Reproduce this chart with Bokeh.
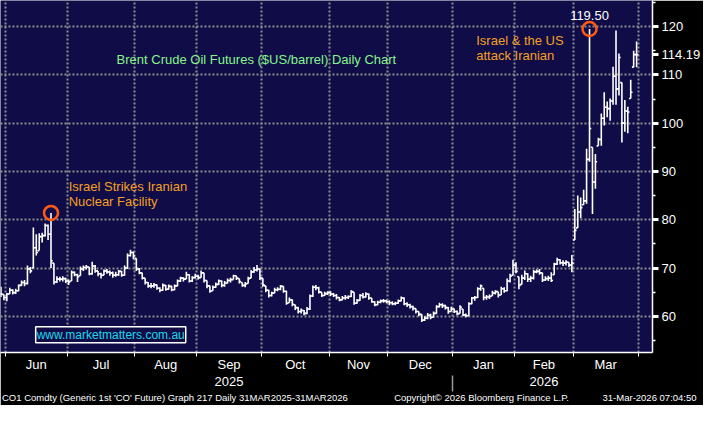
import numpy as np
from bokeh.plotting import figure
from bokeh.models import Range1d, LinearAxis, FixedTicker, Label, ColumnDataSource
from bokeh.embed import file_html
from bokeh.resources import INLINE

# ---------------- data ----------------
months = ["Jun", "Jul", "Aug", "Sep", "Oct", "Nov", "Dec", "Jan", "Feb", "Mar"]
month_days = [21, 23, 21, 22, 23, 20, 22, 21, 20, 22]   # trading days per month
bars_before_jun = 2                                        # May 29, May 30
years = ["2025", "2026"]
year_month = ["Sep", "Feb"]        # month under which each year label sits
year_split_month = "Jan"           # separator before this month
footer = ["CO1 Comdty (Generic 1st 'CO' Future) Graph 217 Daily 31MAR2025-31MAR2026",
          "Copyright\u00a9 2026 Bloomberg Finance L.P.",
          "31-Mar-2026 07:04:50"]

close = [64.6, 63.9, 64.6, 65.4, 64.9, 65.3, 66.4, 67.0, 66.8, 69.8,
         69.4, 74.2, 73.2, 76.5, 76.7, 78.8, 77.0, 71.5, 67.1, 67.7,
         67.7, 67.8, 67.3, 67.1, 69.1, 68.6, 68.2, 69.8, 70.1, 70.2,
         68.8, 70.4, 69.4, 68.8, 68.5, 69.4, 69.2, 69.0, 68.5, 68.6,
         69.3, 68.5, 70.0, 72.6, 73.2, 72.5, 69.8, 69.0, 67.9, 67.0,
         66.3, 66.3, 66.5, 65.8, 65.4, 66.4, 65.6, 66.2, 65.5, 66.3,
         67.3, 67.9, 67.7, 68.6, 67.3, 68.0, 68.3, 68.0, 69.0, 67.4,
         66.3, 65.2, 66.0, 66.6, 67.3, 66.4, 66.9, 67.4, 67.6, 68.4,
         67.9, 67.2, 66.4, 66.7, 67.8, 69.2, 69.6, 69.8, 67.9, 66.5,
         65.4, 64.3, 64.8, 65.5, 65.6, 66.2, 65.2, 62.7, 63.4, 62.5,
         61.8, 61.0, 61.2, 60.6, 61.5, 64.2, 66.0, 65.9, 65.0, 64.3,
         64.7, 64.9, 64.6, 64.3, 63.9, 63.4, 63.8, 63.9, 64.1, 65.1,
         62.7, 63.3, 64.3, 64.0, 64.6, 63.8, 63.0, 62.4, 62.9, 63.2,
         63.2, 63.0, 62.8, 62.6, 62.7, 63.2, 63.8, 62.6, 62.4, 62.0,
         61.6, 61.0, 60.4, 59.2, 59.6, 60.2, 59.8, 60.6, 62.0, 62.4,
         62.2, 61.8, 61.0, 61.5, 61.0, 60.5, 61.9, 60.3, 60.1, 62.6,
         63.8, 63.9, 65.7, 66.3, 63.9, 64.0, 64.1, 64.8, 65.1, 64.4,
         65.7, 65.3, 67.3, 68.3, 70.6, 69.3, 66.4, 67.9, 68.8, 67.7,
         67.9, 69.2, 69.3, 69.0, 67.5, 67.8, 67.9, 67.4, 70.8, 71.7,
         71.1, 71.0, 71.2, 70.6, 71.0, 77.8, 81.6, 82.5, 83.9, 92.5,
         98.9, 87.8, 92.0, 96.6, 101.0, 103.3, 103.0, 104.6, 109.7, 107.1,
         113.6, 100.0, 102.5, 102.3, 106.4, 114.2, 114.19]

high = [66.1, 64.5, 64.8, 65.9, 65.6, 65.7, 66.6, 67.4, 67.5, 70.5,
        70.2, 78.4, 77.0, 77.2, 77.3, 79.2, 79.0, 81.4, 71.0, 68.3,
        68.2, 68.3, 68.0, 67.6, 69.5, 69.3, 68.8, 70.3, 70.5, 70.6,
        70.2, 71.3, 70.6, 69.4, 69.0, 69.7, 69.8, 69.5, 69.3, 69.2,
        69.6, 69.4, 70.5, 73.0, 73.8, 73.4, 72.0, 70.0, 69.0, 67.9,
        67.1, 66.9, 66.9, 66.6, 66.0, 66.8, 66.5, 66.6, 66.3, 66.6,
        67.6, 68.2, 68.1, 69.2, 68.7, 68.3, 68.8, 68.6, 69.5, 69.0,
        67.4, 66.4, 66.4, 67.0, 67.6, 67.4, 67.3, 67.8, 68.0, 68.6,
        68.4, 67.8, 67.0, 67.1, 68.2, 69.6, 70.2, 70.6, 69.9, 67.9,
        66.3, 65.5, 65.1, 65.9, 66.0, 66.5, 66.2, 65.3, 63.9, 63.5,
        62.4, 61.9, 61.6, 61.3, 61.9, 64.5, 66.4, 66.5, 66.1, 65.0,
        65.1, 65.2, 65.2, 64.8, 64.6, 64.0, 64.2, 64.4, 64.3, 65.4,
        65.0, 63.6, 64.6, 64.8, 65.0, 64.7, 63.8, 63.1, 63.2, 63.5,
        63.6, 63.4, 63.3, 63.1, 63.0, 63.5, 64.1, 63.9, 62.9, 62.6,
        62.2, 61.6, 61.0, 60.4, 60.0, 60.7, 60.5, 61.0, 62.3, 62.8,
        62.7, 62.4, 61.9, 62.0, 61.6, 61.2, 62.3, 61.5, 60.6, 62.9,
        64.0, 64.2, 66.0, 66.6, 65.8, 64.4, 64.5, 65.3, 65.4, 65.1,
        66.1, 66.0, 67.8, 68.8, 71.7, 71.2, 68.2, 68.6, 69.5, 68.9,
        68.4, 69.6, 69.7, 69.8, 69.0, 68.3, 68.4, 69.1, 71.1, 72.1,
        71.8, 71.6, 71.6, 71.2, 72.7, 82.2, 85.0, 84.6, 86.2, 94.7,
        119.5, 95.0, 93.6, 97.0, 102.0, 106.4, 104.5, 105.1, 111.7, 119.2,
        114.4, 108.4, 104.8, 103.4, 109.0, 115.0, 116.9]

low = [64.0, 63.3, 63.1, 64.6, 64.5, 64.6, 65.2, 66.3, 66.2, 66.6,
       68.9, 70.0, 72.6, 73.6, 75.3, 76.5, 75.8, 70.0, 66.6, 66.9,
       67.2, 67.2, 66.9, 66.5, 67.3, 68.3, 67.1, 68.4, 69.4, 69.7,
       68.5, 68.6, 69.0, 68.3, 67.8, 68.5, 68.8, 68.4, 68.0, 68.2,
       68.4, 68.2, 68.4, 69.8, 72.4, 71.8, 69.4, 68.7, 67.6, 66.6,
       65.9, 65.8, 65.9, 65.5, 65.0, 65.3, 65.3, 65.5, 65.2, 65.4,
       66.2, 67.1, 67.2, 67.7, 67.0, 67.1, 67.8, 67.6, 68.0, 67.0,
       65.8, 64.9, 65.3, 65.9, 66.5, 66.0, 66.1, 66.8, 67.0, 67.6,
       67.5, 66.8, 66.1, 66.0, 66.8, 67.9, 69.0, 69.3, 67.5, 66.1,
       65.0, 63.9, 64.1, 64.8, 65.2, 65.4, 64.9, 62.4, 62.8, 62.1,
       61.3, 60.6, 60.6, 60.2, 60.4, 61.3, 64.0, 65.4, 64.7, 64.0,
       64.2, 64.4, 64.2, 64.0, 63.5, 63.1, 63.3, 63.4, 63.6, 64.0,
       62.4, 62.6, 63.2, 63.7, 63.9, 63.4, 62.8, 62.1, 62.3, 62.7,
       62.8, 62.7, 62.3, 62.3, 62.3, 62.6, 63.1, 62.3, 61.9, 61.6,
       61.2, 60.6, 60.0, 58.8, 59.0, 59.4, 59.4, 59.7, 60.5, 61.8,
       61.7, 61.4, 60.5, 61.0, 60.7, 60.2, 60.6, 60.0, 59.8, 60.1,
       62.5, 63.2, 63.8, 65.3, 63.3, 63.4, 63.6, 64.2, 64.5, 63.9,
       64.4, 64.9, 65.2, 67.0, 68.5, 68.9, 65.6, 66.6, 67.5, 67.1,
       67.1, 67.6, 68.9, 68.6, 67.1, 67.3, 67.3, 67.1, 68.6, 70.6,
       70.7, 70.4, 70.5, 70.2, 69.1, 75.8, 78.3, 80.3, 83.1, 83.3,
       92.0, 81.2, 86.4, 95.3, 95.3, 99.5, 101.2, 100.5, 103.8, 103.8,
       105.7, 96.0, 98.2, 97.9, 105.1, 111.6, 111.6]

event_idx = [17, 200]          # bars circled in the chart
price_ticks = [60, 70, 80, 90, 100, 110, 120]
price_minor = [55, 65, 75, 85, 95, 105, 115, 125]

# ---------------- derived positions ----------------
starts = np.cumsum([bars_before_jun] + month_days)
bounds = [float(s) - 0.5 for s in starts]
centers = [(a + b) / 2 for a, b in zip(bounds[:-1], bounds[1:])]
month_center = dict(zip(months, centers))
month_bound = dict(zip(months, bounds[:-1]))
month_text = {m: m for m in months}
for yname, m in zip(years, year_month):
    month_text[m] = m + "\n" + yname

idx = np.arange(len(close), dtype=float)
c = np.array(close)
h = np.array(high)
l = np.array(low)
o = np.clip(np.r_[c[0], c[:-1]], l, h)
src = ColumnDataSource(dict(x=idx, xl=idx - 0.6, xr=idx + 0.6, hi=h, lo=l, op=o, cl=c))
last = close[-1]

FONT = "Liberation Sans"
NAVY = "#0f0c47"
GRID = "#8c8c8c"

p = figure(width=703, height=405,
           x_range=Range1d(-0.16, 221.4), y_range=Range1d(52.5, 125.4),
           output_backend="svg", toolbar_location=None, y_axis_location="right",
           background_fill_color=NAVY, border_fill_color="black",
           min_border_left=0, min_border_top=0, min_border_right=49,
           min_border_bottom=46)
p.outline_line_color = None

# grids
p.xgrid.ticker = FixedTicker(ticks=bounds)
p.ygrid.ticker = FixedTicker(ticks=price_ticks)
for g in (p.xgrid, p.ygrid):
    g.grid_line_color = GRID
    g.grid_line_dash = "2 2"
    g.grid_line_width = 2

# month (+year) axis
xa = p.xaxis[0]
xa.ticker = FixedTicker(ticks=centers, minor_ticks=bounds)
xa.major_label_overrides = {cc: month_text[m] for cc, m in zip(centers, months)}
xa.major_tick_out = 0
xa.major_tick_in = 0
xa.minor_tick_in = 0
xa.minor_tick_out = 4
xa.minor_tick_line_color = "white"
xa.axis_line_color = "white"
xa.axis_line_width = 1.5
xa.major_label_text_color = "white"
xa.major_label_text_font = FONT
xa.major_label_text_font_size = "13px"
xa.major_label_text_line_height = 1.15
xa.major_label_standoff = 0

# footer axis (with the year separator as a minor tick pointing up)
f_ticks = [59.1, 163.3, 220.4]
fa = LinearAxis(ticker=FixedTicker(ticks=f_ticks, minor_ticks=[month_bound[year_split_month]]),
                major_label_overrides=dict(zip(f_ticks, footer)),
                axis_line_color=None, major_tick_out=0, major_tick_in=0,
                minor_tick_in=16, minor_tick_out=0, minor_tick_line_color="#9a9a9a",
                minor_tick_line_width=1.5,
                major_label_text_color="white", major_label_text_font=FONT,
                major_label_text_font_size="9.5px", major_label_standoff=0)
p.add_layout(fa, "below")

# price axis (last price shown as an extra labelled tick)
ax = p.yaxis[0]
ax.ticker = FixedTicker(ticks=price_ticks + [last], minor_ticks=price_minor)
ax.major_label_overrides = {last: f"{last:.2f}"}
ax.axis_line_color = "white"
ax.axis_line_width = 1.5
ax.major_tick_in = 0
ax.major_tick_out = 6
ax.major_tick_line_color = "white"
ax.major_tick_line_width = 3
ax.minor_tick_in = 0
ax.minor_tick_out = 3
ax.minor_tick_line_color = "white"
ax.minor_tick_line_width = 1.5
ax.major_label_text_color = "white"
ax.major_label_text_font = FONT
ax.major_label_text_font_size = "13px"
ax.major_label_standoff = 3

# OHLC bars
for kw in (dict(x0="x", y0="lo", x1="x", y1="hi"),
           dict(x0="xl", y0="op", x1="x", y1="op"),
           dict(x0="x", y0="cl", x1="xr", y1="cl")):
    p.segment(source=src, line_color="white", line_width=1.6, **kw)

# event circles
p.scatter(x=[idx[i] for i in event_idx], y=[h[i] for i in event_idx],
          marker="circle", size=14, fill_color=None,
          line_color="#ff5a14", line_width=2.5)

# annotations
def lab(x, y, text, color, size="13px", **kw):
    p.add_layout(Label(x=x, y=y, text=text, text_color=color, text_font=FONT,
                       text_font_size=size, text_baseline="middle", **kw))

lab(39.3, 113.2, "Brent Crude Oil Futures ($US/barrel) Daily Chart", "#86f58a")
lab(161.5, 117.2, "Israel & the US", "#f5a025")
lab(161.5, 114.0, "attack Iranian", "#f5a025")
lab(23.0, 86.9, "Israel Strikes Iranian", "#f5a025")
lab(23.0, 83.7, "Nuclear Facility", "#f5a025")
p.add_layout(Label(x=idx[event_idx[1]], y=h[event_idx[1]], text=f"{h[event_idx[1]]:.2f}",
                   text_color="white", text_font=FONT, text_font_size="13px",
                   text_align="center", text_baseline="bottom", y_offset=9))
lab(11.8, 56.2, "www.marketmatters.com.au", "#1ed8e8", size="12px",
    border_line_color="white", border_line_width=1.5,
    background_fill_color=NAVY, padding=1)

open("out.html", "w").write(file_html(p, INLINE))
